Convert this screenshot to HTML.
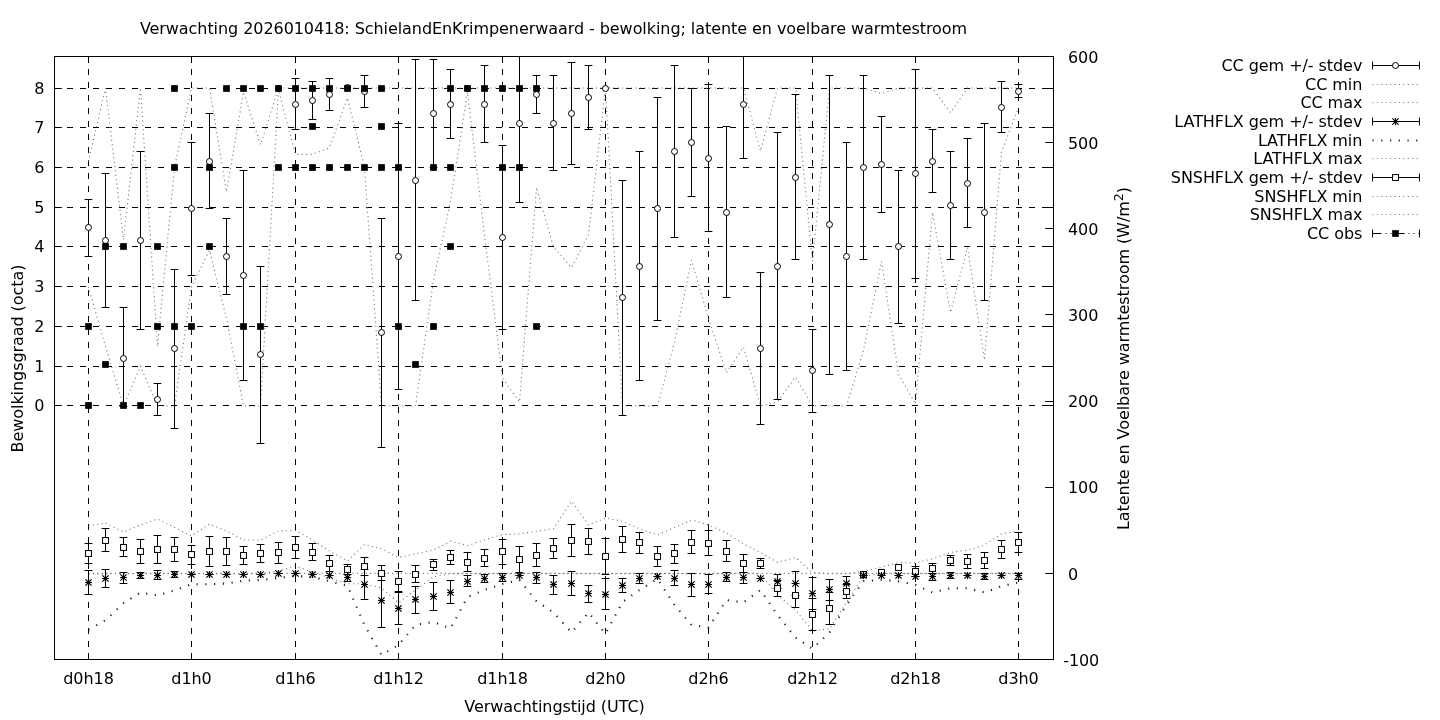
<!DOCTYPE html>
<html lang="nl"><head><meta charset="utf-8"><title>Verwachting 2026010418</title>
<style>html,body{margin:0;padding:0;background:#fff}body{width:1440px;height:720px;overflow:hidden}svg{display:block}</style>
</head><body>
<svg width="1440" height="720" viewBox="0 0 1440 720" font-family="DejaVu Sans, Liberation Sans, sans-serif" font-size="16" fill="#000" letter-spacing="-0.066">
<rect width="1440" height="720" fill="#fff"/>
<g stroke="#000" stroke-width="1" stroke-dasharray="5 8" stroke-linecap="square" fill="none">
<path d="M54.5 405.50H1053.5"/>
<path d="M54.5 366.50H1053.5"/>
<path d="M54.5 326.50H1053.5"/>
<path d="M54.5 286.50H1053.5"/>
<path d="M54.5 246.50H1053.5"/>
<path d="M54.5 207.50H1053.5"/>
<path d="M54.5 167.50H1053.5"/>
<path d="M54.5 127.50H1053.5"/>
<path d="M54.5 88.50H1053.5"/>
<path d="M88.50 56.5V659.5"/>
<path d="M191.50 56.5V659.5"/>
<path d="M295.50 56.5V659.5"/>
<path d="M398.50 56.5V659.5"/>
<path d="M502.50 56.5V659.5"/>
<path d="M605.50 56.5V659.5"/>
<path d="M708.50 56.5V659.5"/>
<path d="M812.50 56.5V659.5"/>
<path d="M915.50 56.5V659.5"/>
<path d="M1018.50 56.5V659.5"/>
</g>
<g stroke="#000" stroke-width="1" fill="none">
<path d="M1053.5 659.50h-8.3"/>
<path d="M1053.5 573.50h-8.3"/>
<path d="M1053.5 487.50h-8.3"/>
<path d="M1053.5 401.50h-8.3"/>
<path d="M1053.5 314.50h-8.3"/>
<path d="M1053.5 228.50h-8.3"/>
<path d="M1053.5 142.50h-8.3"/>
<path d="M1053.5 56.50h-8.3"/>
<path d="M54.5 405.50h7.4M1053.5 405.50h-7.4"/>
<path d="M54.5 366.50h7.4M1053.5 366.50h-7.4"/>
<path d="M54.5 326.50h7.4M1053.5 326.50h-7.4"/>
<path d="M54.5 286.50h7.4M1053.5 286.50h-7.4"/>
<path d="M54.5 246.50h7.4M1053.5 246.50h-7.4"/>
<path d="M54.5 207.50h7.4M1053.5 207.50h-7.4"/>
<path d="M54.5 167.50h7.4M1053.5 167.50h-7.4"/>
<path d="M54.5 127.50h7.4M1053.5 127.50h-7.4"/>
<path d="M54.5 88.50h7.4M1053.5 88.50h-7.4"/>
<path d="M88.5 56.5v6.5M88.5 659.5v-6.5"/>
<path d="M191.5 56.5v6.5M191.5 659.5v-6.5"/>
<path d="M295.5 56.5v6.5M295.5 659.5v-6.5"/>
<path d="M398.5 56.5v6.5M398.5 659.5v-6.5"/>
<path d="M502.5 56.5v6.5M502.5 659.5v-6.5"/>
<path d="M605.5 56.5v6.5M605.5 659.5v-6.5"/>
<path d="M708.5 56.5v6.5M708.5 659.5v-6.5"/>
<path d="M812.5 56.5v6.5M812.5 659.5v-6.5"/>
<path d="M915.5 56.5v6.5M915.5 659.5v-6.5"/>
<path d="M1018.5 56.5v6.5M1018.5 659.5v-6.5"/>
</g>
<g fill="none" stroke="#787878" stroke-width="1.1" stroke-dasharray="1.1 3.3">
<polyline points="88.5,286.8 105.5,346.4 123.5,406.0 140.5,366.2 157.5,406.0 174.5,406.0 191.5,286.8 209.5,250.2 226.5,318.6 243.5,406.0 260.5,406.0 278.5,90.0 295.5,154.4 312.5,154.4 329.5,147.6 347.5,97.9 364.5,167.5 381.5,406.0 398.5,406.0 415.5,406.0 433.5,280.0 450.5,201.3 467.5,92.0 484.5,235.1 502.5,378.2 519.5,402.0 536.5,187.4 553.5,247.0 571.5,267.7 588.5,234.7 605.5,88.0 622.5,406.0 639.5,406.0 657.5,406.0 674.5,342.4 691.5,260.1 708.5,318.6 726.5,372.6 743.5,347.2 760.5,406.0 777.5,402.0 795.5,377.0 812.5,406.0 829.5,406.0 846.5,406.0 863.5,350.4 881.5,261.3 898.5,374.2 915.5,404.0 932.5,212.4 950.5,312.6 967.5,247.4 984.5,359.9 1001.5,151.6 1018.5,107.9"/>
<polyline points="88.5,161.5 105.5,88.0 123.5,239.8 140.5,88.0 157.5,346.4 174.5,167.5 191.5,88.0 209.5,88.0 226.5,191.7 243.5,92.0 260.5,144.8 278.5,88.0 295.5,88.0 312.5,88.0 329.5,88.0 347.5,88.0 364.5,88.0 381.5,88.0 398.5,88.0 415.5,88.0 433.5,88.0 450.5,88.0 467.5,88.0 484.5,88.0 502.5,88.0 519.5,88.0 536.5,88.0 553.5,88.0 571.5,88.0 588.5,88.0 605.5,88.0 622.5,88.0 639.5,88.0 657.5,88.0 674.5,88.0 691.5,88.0 708.5,88.0 726.5,88.0 743.5,88.0 760.5,151.2 777.5,88.0 795.5,88.0 812.5,261.3 829.5,88.0 846.5,88.0 863.5,88.0 881.5,93.6 898.5,88.0 915.5,88.0 932.5,88.0 950.5,112.6 967.5,88.0 984.5,88.0 1001.5,88.0 1018.5,88.0"/>
<polyline points="88.5,573.4 105.5,573.4 123.5,573.4 140.5,573.4 157.5,573.4 174.5,573.4 191.5,573.4 209.5,573.4 226.5,573.4 243.5,573.4 260.5,573.4 278.5,573.4 295.5,573.4 312.5,573.4 329.5,573.4 347.5,573.4 364.5,573.4 381.5,573.4 398.5,573.4 415.5,573.4 433.5,573.4 450.5,573.4 467.5,573.4 484.5,573.4 502.5,573.4 519.5,573.4 536.5,573.4 553.5,573.4 571.5,573.4 588.5,573.4 605.5,573.4 622.5,573.4 639.5,573.4 657.5,573.4 674.5,573.4 691.5,573.4 708.5,573.4 726.5,573.4 743.5,573.4 760.5,573.4 777.5,573.4 795.5,573.4 812.5,573.4 829.5,573.4 846.5,573.4 863.5,573.4 881.5,573.4 898.5,573.4 915.5,573.4 932.5,573.4 950.5,573.4 967.5,573.4 984.5,573.4 1001.5,573.4 1018.5,573.4"/>
<polyline points="88.5,573.6 105.5,573.6 123.5,573.6 140.5,573.6 157.5,573.6 174.5,573.6 191.5,573.6 209.5,573.6 226.5,573.6 243.5,573.6 260.5,573.6 278.5,571.0 295.5,566.0 312.5,572.0 329.5,578.0 347.5,583.8 364.5,583.8 381.5,588.0 398.5,602.8 415.5,590.0 433.5,577.0 450.5,573.6 467.5,573.6 484.5,573.6 502.5,573.6 519.5,573.6 536.5,573.6 553.5,573.6 571.5,573.6 588.5,573.6 605.5,573.6 622.5,573.6 639.5,573.6 657.5,573.6 674.5,573.6 691.5,573.6 708.5,573.6 726.5,573.6 743.5,573.6 760.5,574.0 777.5,595.0 795.5,610.0 812.5,631.0 829.5,628.8 846.5,602.5 863.5,576.0 881.5,573.6 898.5,573.6 915.5,573.6 932.5,573.6 950.5,573.6 967.5,573.6 984.5,573.6 1001.5,573.6 1018.5,573.6"/>
<polyline points="88.5,526.0 105.5,523.0 123.5,532.0 140.5,525.0 157.5,519.0 174.5,527.5 191.5,536.0 209.5,524.0 226.5,531.0 243.5,540.0 260.5,540.0 278.5,531.0 295.5,530.5 312.5,540.0 329.5,551.0 347.5,561.0 364.5,544.5 381.5,548.8 398.5,557.5 415.5,553.8 433.5,550.0 450.5,541.2 467.5,545.5 484.5,540.0 502.5,534.5 519.5,533.8 536.5,531.2 553.5,528.8 571.5,501.2 588.5,525.0 605.5,518.0 622.5,521.2 639.5,528.8 657.5,535.0 674.5,527.5 691.5,520.0 708.5,525.0 726.5,533.0 743.5,543.8 760.5,552.5 777.5,562.5 795.5,557.5 812.5,572.5 829.5,573.8 846.5,573.8 863.5,571.2 881.5,567.5 898.5,562.5 915.5,563.0 932.5,558.8 950.5,552.5 967.5,550.0 984.5,545.0 1001.5,533.8 1018.5,531.2"/>
</g>
<polyline fill="none" stroke="#1a1a1a" stroke-width="2.1" stroke-dasharray="1.15 7.6" points="88.5,629.6 105.5,620.3 123.5,603.2 140.5,592.5 157.5,595.5 174.5,590.5 191.5,584.2 209.5,584.2 226.5,583.5 243.5,580.8 260.5,580.0 278.5,578.0 295.5,576.0 312.5,577.0 329.5,581.0 347.5,586.0 364.5,625.0 381.5,655.0 398.5,645.0 415.5,625.0 433.5,622.0 450.5,628.5 467.5,597.0 484.5,590.0 502.5,584.0 519.5,580.0 536.5,601.2 553.5,612.5 571.5,632.5 588.5,612.5 605.5,633.8 622.5,602.0 639.5,590.0 657.5,578.8 674.5,605.0 691.5,625.0 708.5,627.5 726.5,600.0 743.5,602.5 760.5,590.0 777.5,615.0 795.5,637.5 812.5,648.8 829.5,632.5 846.5,605.0 863.5,581.2 881.5,580.0 898.5,581.2 915.5,585.0 932.5,592.5 950.5,588.2 967.5,588.2 984.5,592.5 1001.5,586.2 1018.5,582.5"/>
<g stroke="#000" stroke-width="1" fill="none">
<path d="M88.50 199.50V256.50M84.60 199.50h7.8M84.60 256.50h7.8M105.50 173.50V307.50M101.60 173.50h7.8M101.60 307.50h7.8M123.50 307.50V406.50M119.60 307.50h7.8M119.60 406.50h7.8M140.50 151.50V329.50M136.60 151.50h7.8M136.60 329.50h7.8M157.50 383.50V415.50M153.60 383.50h7.8M153.60 415.50h7.8M174.50 269.50V428.50M170.60 269.50h7.8M170.60 428.50h7.8M191.50 142.50V275.50M187.60 142.50h7.8M187.60 275.50h7.8M209.50 113.50V208.50M205.60 113.50h7.8M205.60 208.50h7.8M226.50 218.50V294.50M222.60 218.50h7.8M222.60 294.50h7.8M243.50 170.50V380.50M239.60 170.50h7.8M239.60 380.50h7.8M260.50 266.50V443.50M256.60 266.50h7.8M256.60 443.50h7.8M295.50 78.50V129.50M291.60 78.50h7.8M291.60 129.50h7.8M312.50 81.50V119.50M308.60 81.50h7.8M308.60 119.50h7.8M329.50 78.50V110.50M325.60 78.50h7.8M325.60 110.50h7.8M364.50 75.50V107.50M360.60 75.50h7.8M360.60 107.50h7.8M381.50 218.50V447.50M377.60 218.50h7.8M377.60 447.50h7.8M398.50 123.50V389.50M394.60 123.50h7.8M394.60 389.50h7.8M415.50 59.50V300.50M411.60 59.50h7.8M411.60 300.50h7.8M433.50 59.50V167.50M429.60 59.50h7.8M429.60 167.50h7.8M450.50 69.50V138.50M446.60 69.50h7.8M446.60 138.50h7.8M484.50 65.50V142.50M480.60 65.50h7.8M480.60 142.50h7.8M502.50 145.50V329.50M498.60 145.50h7.8M498.60 329.50h7.8M519.50 56.50V202.50M515.60 202.50h7.8M536.50 75.50V113.50M532.60 75.50h7.8M532.60 113.50h7.8M553.50 75.50V170.50M549.60 75.50h7.8M549.60 170.50h7.8M571.50 62.50V164.50M567.60 62.50h7.8M567.60 164.50h7.8M588.50 65.50V129.50M584.60 65.50h7.8M584.60 129.50h7.8M622.50 180.50V415.50M618.60 180.50h7.8M618.60 415.50h7.8M639.50 151.50V380.50M635.60 151.50h7.8M635.60 380.50h7.8M657.50 97.50V320.50M653.60 97.50h7.8M653.60 320.50h7.8M674.50 65.50V237.50M670.60 65.50h7.8M670.60 237.50h7.8M691.50 88.50V196.50M687.60 88.50h7.8M687.60 196.50h7.8M708.50 84.50V231.50M704.60 84.50h7.8M704.60 231.50h7.8M726.50 126.50V297.50M722.60 126.50h7.8M722.60 297.50h7.8M743.50 56.50V158.50M739.60 158.50h7.8M760.50 272.50V424.50M756.60 272.50h7.8M756.60 424.50h7.8M777.50 132.50V399.50M773.60 132.50h7.8M773.60 399.50h7.8M795.50 94.50V259.50M791.60 94.50h7.8M791.60 259.50h7.8M812.50 329.50V412.50M808.60 329.50h7.8M808.60 412.50h7.8M829.50 75.50V374.50M825.60 75.50h7.8M825.60 374.50h7.8M846.50 142.50V370.50M842.60 142.50h7.8M842.60 370.50h7.8M863.50 75.50V259.50M859.60 75.50h7.8M859.60 259.50h7.8M881.50 116.50V212.50M877.60 116.50h7.8M877.60 212.50h7.8M898.50 170.50V323.50M894.60 170.50h7.8M894.60 323.50h7.8M915.50 69.50V278.50M911.60 69.50h7.8M911.60 278.50h7.8M932.50 129.50V192.50M928.60 129.50h7.8M928.60 192.50h7.8M950.50 151.50V259.50M946.60 151.50h7.8M946.60 259.50h7.8M967.50 138.50V227.50M963.60 138.50h7.8M963.60 227.50h7.8M984.50 123.50V300.50M980.60 123.50h7.8M980.60 300.50h7.8M1001.50 81.50V132.50M997.60 81.50h7.8M997.60 132.50h7.8M1018.50 84.50V97.50M1014.60 84.50h7.8M1014.60 97.50h7.8"/>
<path d="M88.50 570.50V594.50M84.60 570.50h7.8M84.60 594.50h7.8M105.50 569.50V587.50M101.60 569.50h7.8M101.60 587.50h7.8M123.50 572.50V583.50M119.60 572.50h7.8M119.60 583.50h7.8M140.50 572.50V578.50M136.60 572.50h7.8M136.60 578.50h7.8M157.50 570.50V579.50M153.60 570.50h7.8M153.60 579.50h7.8M174.50 571.50V577.50M170.60 571.50h7.8M170.60 577.50h7.8M191.50 574.50V574.50M187.60 574.50h7.8M187.60 574.50h7.8M209.50 574.50V574.50M205.60 574.50h7.8M205.60 574.50h7.8M226.50 574.50V574.50M222.60 574.50h7.8M222.60 574.50h7.8M243.50 574.50V574.50M239.60 574.50h7.8M239.60 574.50h7.8M260.50 574.50V574.50M256.60 574.50h7.8M256.60 574.50h7.8M278.50 573.50V573.50M274.60 573.50h7.8M274.60 573.50h7.8M295.50 573.50V573.50M291.60 573.50h7.8M291.60 573.50h7.8M312.50 574.50V574.50M308.60 574.50h7.8M308.60 574.50h7.8M329.50 575.50V575.50M325.60 575.50h7.8M325.60 575.50h7.8M347.50 574.50V581.50M343.60 574.50h7.8M343.60 581.50h7.8M364.50 569.50V599.50M360.60 569.50h7.8M360.60 599.50h7.8M381.50 573.50V627.50M377.60 573.50h7.8M377.60 627.50h7.8M398.50 591.50V624.50M394.60 591.50h7.8M394.60 624.50h7.8M415.50 586.50V613.50M411.60 586.50h7.8M411.60 613.50h7.8M433.50 582.50V610.50M429.60 582.50h7.8M429.60 610.50h7.8M450.50 580.50V603.50M446.60 580.50h7.8M446.60 603.50h7.8M467.50 575.50V586.50M463.60 575.50h7.8M463.60 586.50h7.8M484.50 574.50V582.50M480.60 574.50h7.8M480.60 582.50h7.8M502.50 573.50V581.50M498.60 573.50h7.8M498.60 581.50h7.8M519.50 575.50V575.50M515.60 575.50h7.8M515.60 575.50h7.8M536.50 572.50V583.50M532.60 572.50h7.8M532.60 583.50h7.8M553.50 575.50V594.50M549.60 575.50h7.8M549.60 594.50h7.8M571.50 571.50V595.50M567.60 571.50h7.8M567.60 595.50h7.8M588.50 585.50V602.50M584.60 585.50h7.8M584.60 602.50h7.8M605.50 578.50V609.50M601.60 578.50h7.8M601.60 609.50h7.8M622.50 578.50V592.50M618.60 578.50h7.8M618.60 592.50h7.8M639.50 573.50V583.50M635.60 573.50h7.8M635.60 583.50h7.8M657.50 576.50V576.50M653.60 576.50h7.8M653.60 576.50h7.8M674.50 570.50V585.50M670.60 570.50h7.8M670.60 585.50h7.8M691.50 573.50V596.50M687.60 573.50h7.8M687.60 596.50h7.8M708.50 574.50V593.50M704.60 574.50h7.8M704.60 593.50h7.8M726.50 572.50V581.50M722.60 572.50h7.8M722.60 581.50h7.8M743.50 572.50V583.50M739.60 572.50h7.8M739.60 583.50h7.8M760.50 578.50V578.50M756.60 578.50h7.8M756.60 578.50h7.8M777.50 574.50V588.50M773.60 574.50h7.8M773.60 588.50h7.8M795.50 571.50V595.50M791.60 571.50h7.8M791.60 595.50h7.8M812.50 577.50V609.50M808.60 577.50h7.8M808.60 609.50h7.8M829.50 579.50V600.50M825.60 579.50h7.8M825.60 600.50h7.8M846.50 576.50V590.50M842.60 576.50h7.8M842.60 590.50h7.8M863.50 575.50V575.50M859.60 575.50h7.8M859.60 575.50h7.8M881.50 575.50V575.50M877.60 575.50h7.8M877.60 575.50h7.8M898.50 575.50V575.50M894.60 575.50h7.8M894.60 575.50h7.8M915.50 576.50V576.50M911.60 576.50h7.8M911.60 576.50h7.8M932.50 573.50V580.50M928.60 573.50h7.8M928.60 580.50h7.8M950.50 572.50V578.50M946.60 572.50h7.8M946.60 578.50h7.8M967.50 575.50V575.50M963.60 575.50h7.8M963.60 575.50h7.8M984.50 573.50V579.50M980.60 573.50h7.8M980.60 579.50h7.8M1001.50 575.50V575.50M997.60 575.50h7.8M997.60 575.50h7.8M1018.50 573.50V579.50M1014.60 573.50h7.8M1014.60 579.50h7.8M88.50 543.50V563.50M84.60 543.50h7.8M84.60 563.50h7.8M105.50 528.50V551.50M101.60 528.50h7.8M101.60 551.50h7.8M123.50 537.50V556.50M119.60 537.50h7.8M119.60 556.50h7.8M140.50 539.50V563.50M136.60 539.50h7.8M136.60 563.50h7.8M157.50 535.50V563.50M153.60 535.50h7.8M153.60 563.50h7.8M174.50 537.50V561.50M170.60 537.50h7.8M170.60 561.50h7.8M191.50 545.50V564.50M187.60 545.50h7.8M187.60 564.50h7.8M209.50 536.50V566.50M205.60 536.50h7.8M205.60 566.50h7.8M226.50 537.50V565.50M222.60 537.50h7.8M222.60 565.50h7.8M243.50 546.50V564.50M239.60 546.50h7.8M239.60 564.50h7.8M260.50 544.50V562.50M256.60 544.50h7.8M256.60 562.50h7.8M278.50 542.50V563.50M274.60 542.50h7.8M274.60 563.50h7.8M295.50 536.50V558.50M291.60 536.50h7.8M291.60 558.50h7.8M312.50 543.50V560.50M308.60 543.50h7.8M308.60 560.50h7.8M329.50 555.50V571.50M325.60 555.50h7.8M325.60 571.50h7.8M347.50 564.50V574.50M343.60 564.50h7.8M343.60 574.50h7.8M364.50 557.50V575.50M360.60 557.50h7.8M360.60 575.50h7.8M381.50 565.50V580.50M377.60 565.50h7.8M377.60 580.50h7.8M398.50 571.50V592.50M394.60 571.50h7.8M394.60 592.50h7.8M415.50 565.50V582.50M411.60 565.50h7.8M411.60 582.50h7.8M433.50 559.50V570.50M429.60 559.50h7.8M429.60 570.50h7.8M450.50 550.50V564.50M446.60 550.50h7.8M446.60 564.50h7.8M467.50 552.50V571.50M463.60 552.50h7.8M463.60 571.50h7.8M484.50 549.50V566.50M480.60 549.50h7.8M480.60 566.50h7.8M502.50 539.50V564.50M498.60 539.50h7.8M498.60 564.50h7.8M519.50 546.50V572.50M515.60 546.50h7.8M515.60 572.50h7.8M536.50 543.50V566.50M532.60 543.50h7.8M532.60 566.50h7.8M553.50 538.50V558.50M549.60 538.50h7.8M549.60 558.50h7.8M571.50 524.50V556.50M567.60 524.50h7.8M567.60 556.50h7.8M588.50 528.50V554.50M584.60 528.50h7.8M584.60 554.50h7.8M605.50 538.50V574.50M601.60 538.50h7.8M601.60 574.50h7.8M622.50 526.50V552.50M618.60 526.50h7.8M618.60 552.50h7.8M639.50 532.50V553.50M635.60 532.50h7.8M635.60 553.50h7.8M657.50 546.50V566.50M653.60 546.50h7.8M653.60 566.50h7.8M674.50 544.50V563.50M670.60 544.50h7.8M670.60 563.50h7.8M691.50 530.50V553.50M687.60 530.50h7.8M687.60 553.50h7.8M708.50 530.50V555.50M704.60 530.50h7.8M704.60 555.50h7.8M726.50 540.50V561.50M722.60 540.50h7.8M722.60 561.50h7.8M743.50 554.50V572.50M739.60 554.50h7.8M739.60 572.50h7.8M760.50 558.50V568.50M756.60 558.50h7.8M756.60 568.50h7.8M777.50 580.50V596.50M773.60 580.50h7.8M773.60 596.50h7.8M795.50 583.50V607.50M791.60 583.50h7.8M791.60 607.50h7.8M812.50 598.50V630.50M808.60 598.50h7.8M808.60 630.50h7.8M829.50 592.50V624.50M825.60 592.50h7.8M825.60 624.50h7.8M846.50 584.50V598.50M842.60 584.50h7.8M842.60 598.50h7.8M915.50 566.50V576.50M911.60 566.50h7.8M911.60 576.50h7.8M932.50 563.50V573.50M928.60 563.50h7.8M928.60 573.50h7.8M950.50 555.50V565.50M946.60 555.50h7.8M946.60 565.50h7.8M967.50 554.50V568.50M963.60 554.50h7.8M963.60 568.50h7.8M984.50 552.50V568.50M980.60 552.50h7.8M980.60 568.50h7.8M1001.50 540.50V558.50M997.60 540.50h7.8M997.60 558.50h7.8M1018.50 532.50V552.50M1014.60 532.50h7.8M1014.60 552.50h7.8"/>
</g>
<g stroke="#000" stroke-width="1" fill="#fff">
<circle cx="88.50" cy="227.50" r="3"/>
<circle cx="105.50" cy="240.50" r="3"/>
<circle cx="123.50" cy="358.50" r="3"/>
<circle cx="140.50" cy="240.50" r="3"/>
<circle cx="157.50" cy="399.50" r="3"/>
<circle cx="174.50" cy="348.50" r="3"/>
<circle cx="191.50" cy="208.50" r="3"/>
<circle cx="209.50" cy="161.50" r="3"/>
<circle cx="226.50" cy="256.50" r="3"/>
<circle cx="243.50" cy="275.50" r="3"/>
<circle cx="260.50" cy="354.50" r="3"/>
<circle cx="278.50" cy="88.50" r="3"/>
<circle cx="295.50" cy="104.50" r="3"/>
<circle cx="312.50" cy="100.50" r="3"/>
<circle cx="329.50" cy="94.50" r="3"/>
<circle cx="347.50" cy="87.50" r="3"/>
<circle cx="364.50" cy="91.50" r="3"/>
<circle cx="381.50" cy="332.50" r="3"/>
<circle cx="398.50" cy="256.50" r="3"/>
<circle cx="415.50" cy="180.50" r="3"/>
<circle cx="433.50" cy="113.50" r="3"/>
<circle cx="450.50" cy="104.50" r="3"/>
<circle cx="467.50" cy="88.50" r="3"/>
<circle cx="484.50" cy="104.50" r="3"/>
<circle cx="502.50" cy="237.50" r="3"/>
<circle cx="519.50" cy="123.50" r="3"/>
<circle cx="536.50" cy="94.50" r="3"/>
<circle cx="553.50" cy="123.50" r="3"/>
<circle cx="571.50" cy="113.50" r="3"/>
<circle cx="588.50" cy="97.50" r="3"/>
<circle cx="605.50" cy="88.50" r="3"/>
<circle cx="622.50" cy="297.50" r="3"/>
<circle cx="639.50" cy="266.50" r="3"/>
<circle cx="657.50" cy="208.50" r="3"/>
<circle cx="674.50" cy="151.50" r="3"/>
<circle cx="691.50" cy="142.50" r="3"/>
<circle cx="708.50" cy="158.50" r="3"/>
<circle cx="726.50" cy="212.50" r="3"/>
<circle cx="743.50" cy="104.50" r="3"/>
<circle cx="760.50" cy="348.50" r="3"/>
<circle cx="777.50" cy="266.50" r="3"/>
<circle cx="795.50" cy="177.50" r="3"/>
<circle cx="812.50" cy="370.50" r="3"/>
<circle cx="829.50" cy="224.50" r="3"/>
<circle cx="846.50" cy="256.50" r="3"/>
<circle cx="863.50" cy="167.50" r="3"/>
<circle cx="881.50" cy="164.50" r="3"/>
<circle cx="898.50" cy="246.50" r="3"/>
<circle cx="915.50" cy="173.50" r="3"/>
<circle cx="932.50" cy="161.50" r="3"/>
<circle cx="950.50" cy="205.50" r="3"/>
<circle cx="967.50" cy="183.50" r="3"/>
<circle cx="984.50" cy="212.50" r="3"/>
<circle cx="1001.50" cy="107.50" r="3"/>
<circle cx="1018.50" cy="91.50" r="3"/>
<rect x="85.55" y="550.55" width="5.9" height="5.9"/>
<rect x="102.55" y="537.55" width="5.9" height="5.9"/>
<rect x="120.55" y="544.55" width="5.9" height="5.9"/>
<rect x="137.55" y="548.55" width="5.9" height="5.9"/>
<rect x="154.55" y="546.55" width="5.9" height="5.9"/>
<rect x="171.55" y="546.55" width="5.9" height="5.9"/>
<rect x="188.55" y="551.55" width="5.9" height="5.9"/>
<rect x="206.55" y="548.55" width="5.9" height="5.9"/>
<rect x="223.55" y="548.55" width="5.9" height="5.9"/>
<rect x="240.55" y="552.55" width="5.9" height="5.9"/>
<rect x="257.55" y="550.55" width="5.9" height="5.9"/>
<rect x="275.55" y="549.55" width="5.9" height="5.9"/>
<rect x="292.55" y="544.55" width="5.9" height="5.9"/>
<rect x="309.55" y="549.55" width="5.9" height="5.9"/>
<rect x="326.55" y="560.55" width="5.9" height="5.9"/>
<rect x="344.55" y="566.55" width="5.9" height="5.9"/>
<rect x="361.55" y="563.55" width="5.9" height="5.9"/>
<rect x="378.55" y="570.55" width="5.9" height="5.9"/>
<rect x="395.55" y="578.55" width="5.9" height="5.9"/>
<rect x="412.55" y="571.55" width="5.9" height="5.9"/>
<rect x="430.55" y="561.55" width="5.9" height="5.9"/>
<rect x="447.55" y="554.55" width="5.9" height="5.9"/>
<rect x="464.55" y="559.55" width="5.9" height="5.9"/>
<rect x="481.55" y="555.55" width="5.9" height="5.9"/>
<rect x="499.55" y="548.55" width="5.9" height="5.9"/>
<rect x="516.55" y="556.55" width="5.9" height="5.9"/>
<rect x="533.55" y="552.55" width="5.9" height="5.9"/>
<rect x="550.55" y="545.55" width="5.9" height="5.9"/>
<rect x="568.55" y="537.55" width="5.9" height="5.9"/>
<rect x="585.55" y="538.55" width="5.9" height="5.9"/>
<rect x="602.55" y="553.55" width="5.9" height="5.9"/>
<rect x="619.55" y="536.55" width="5.9" height="5.9"/>
<rect x="636.55" y="539.55" width="5.9" height="5.9"/>
<rect x="654.55" y="553.55" width="5.9" height="5.9"/>
<rect x="671.55" y="550.55" width="5.9" height="5.9"/>
<rect x="688.55" y="539.55" width="5.9" height="5.9"/>
<rect x="705.55" y="540.55" width="5.9" height="5.9"/>
<rect x="723.55" y="548.55" width="5.9" height="5.9"/>
<rect x="740.55" y="560.55" width="5.9" height="5.9"/>
<rect x="757.55" y="560.55" width="5.9" height="5.9"/>
<rect x="774.55" y="585.55" width="5.9" height="5.9"/>
<rect x="792.55" y="592.55" width="5.9" height="5.9"/>
<rect x="809.55" y="611.55" width="5.9" height="5.9"/>
<rect x="826.55" y="605.55" width="5.9" height="5.9"/>
<rect x="843.55" y="588.55" width="5.9" height="5.9"/>
<rect x="860.55" y="571.55" width="5.9" height="5.9"/>
<rect x="878.55" y="569.55" width="5.9" height="5.9"/>
<rect x="895.55" y="564.55" width="5.9" height="5.9"/>
<rect x="912.55" y="568.55" width="5.9" height="5.9"/>
<rect x="929.55" y="565.55" width="5.9" height="5.9"/>
<rect x="947.55" y="557.55" width="5.9" height="5.9"/>
<rect x="964.55" y="558.55" width="5.9" height="5.9"/>
<rect x="981.55" y="557.55" width="5.9" height="5.9"/>
<rect x="998.55" y="546.55" width="5.9" height="5.9"/>
<rect x="1015.55" y="539.55" width="5.9" height="5.9"/>
</g>
<path d="M85.10 582.50h6.8M88.50 579.10v6.8M85.40 579.40l6.20 6.20M85.40 585.60l6.20 -6.20M102.10 578.50h6.8M105.50 575.10v6.8M102.40 575.40l6.20 6.20M102.40 581.60l6.20 -6.20M120.10 577.50h6.8M123.50 574.10v6.8M120.40 574.40l6.20 6.20M120.40 580.60l6.20 -6.20M137.10 575.50h6.8M140.50 572.10v6.8M137.40 572.40l6.20 6.20M137.40 578.60l6.20 -6.20M154.10 575.50h6.8M157.50 572.10v6.8M154.40 572.40l6.20 6.20M154.40 578.60l6.20 -6.20M171.10 574.50h6.8M174.50 571.10v6.8M171.40 571.40l6.20 6.20M171.40 577.60l6.20 -6.20M188.10 574.50h6.8M191.50 571.10v6.8M188.40 571.40l6.20 6.20M188.40 577.60l6.20 -6.20M206.10 574.50h6.8M209.50 571.10v6.8M206.40 571.40l6.20 6.20M206.40 577.60l6.20 -6.20M223.10 574.50h6.8M226.50 571.10v6.8M223.40 571.40l6.20 6.20M223.40 577.60l6.20 -6.20M240.10 574.50h6.8M243.50 571.10v6.8M240.40 571.40l6.20 6.20M240.40 577.60l6.20 -6.20M257.10 574.50h6.8M260.50 571.10v6.8M257.40 571.40l6.20 6.20M257.40 577.60l6.20 -6.20M275.10 573.50h6.8M278.50 570.10v6.8M275.40 570.40l6.20 6.20M275.40 576.60l6.20 -6.20M292.10 573.50h6.8M295.50 570.10v6.8M292.40 570.40l6.20 6.20M292.40 576.60l6.20 -6.20M309.10 574.50h6.8M312.50 571.10v6.8M309.40 571.40l6.20 6.20M309.40 577.60l6.20 -6.20M326.10 575.50h6.8M329.50 572.10v6.8M326.40 572.40l6.20 6.20M326.40 578.60l6.20 -6.20M344.10 577.50h6.8M347.50 574.10v6.8M344.40 574.40l6.20 6.20M344.40 580.60l6.20 -6.20M361.10 584.50h6.8M364.50 581.10v6.8M361.40 581.40l6.20 6.20M361.40 587.60l6.20 -6.20M378.10 600.50h6.8M381.50 597.10v6.8M378.40 597.40l6.20 6.20M378.40 603.60l6.20 -6.20M395.10 608.50h6.8M398.50 605.10v6.8M395.40 605.40l6.20 6.20M395.40 611.60l6.20 -6.20M412.10 599.50h6.8M415.50 596.10v6.8M412.40 596.40l6.20 6.20M412.40 602.60l6.20 -6.20M430.10 596.50h6.8M433.50 593.10v6.8M430.40 593.40l6.20 6.20M430.40 599.60l6.20 -6.20M447.10 592.50h6.8M450.50 589.10v6.8M447.40 589.40l6.20 6.20M447.40 595.60l6.20 -6.20M464.10 581.50h6.8M467.50 578.10v6.8M464.40 578.40l6.20 6.20M464.40 584.60l6.20 -6.20M481.10 578.50h6.8M484.50 575.10v6.8M481.40 575.40l6.20 6.20M481.40 581.60l6.20 -6.20M499.10 577.50h6.8M502.50 574.10v6.8M499.40 574.40l6.20 6.20M499.40 580.60l6.20 -6.20M516.10 575.50h6.8M519.50 572.10v6.8M516.40 572.40l6.20 6.20M516.40 578.60l6.20 -6.20M533.10 577.50h6.8M536.50 574.10v6.8M533.40 574.40l6.20 6.20M533.40 580.60l6.20 -6.20M550.10 584.50h6.8M553.50 581.10v6.8M550.40 581.40l6.20 6.20M550.40 587.60l6.20 -6.20M568.10 583.50h6.8M571.50 580.10v6.8M568.40 580.40l6.20 6.20M568.40 586.60l6.20 -6.20M585.10 593.50h6.8M588.50 590.10v6.8M585.40 590.40l6.20 6.20M585.40 596.60l6.20 -6.20M602.10 594.50h6.8M605.50 591.10v6.8M602.40 591.40l6.20 6.20M602.40 597.60l6.20 -6.20M619.10 585.50h6.8M622.50 582.10v6.8M619.40 582.40l6.20 6.20M619.40 588.60l6.20 -6.20M636.10 578.50h6.8M639.50 575.10v6.8M636.40 575.40l6.20 6.20M636.40 581.60l6.20 -6.20M654.10 576.50h6.8M657.50 573.10v6.8M654.40 573.40l6.20 6.20M654.40 579.60l6.20 -6.20M671.10 578.50h6.8M674.50 575.10v6.8M671.40 575.40l6.20 6.20M671.40 581.60l6.20 -6.20M688.10 584.50h6.8M691.50 581.10v6.8M688.40 581.40l6.20 6.20M688.40 587.60l6.20 -6.20M705.10 584.50h6.8M708.50 581.10v6.8M705.40 581.40l6.20 6.20M705.40 587.60l6.20 -6.20M723.10 577.50h6.8M726.50 574.10v6.8M723.40 574.40l6.20 6.20M723.40 580.60l6.20 -6.20M740.10 577.50h6.8M743.50 574.10v6.8M740.40 574.40l6.20 6.20M740.40 580.60l6.20 -6.20M757.10 578.50h6.8M760.50 575.10v6.8M757.40 575.40l6.20 6.20M757.40 581.60l6.20 -6.20M774.10 581.50h6.8M777.50 578.10v6.8M774.40 578.40l6.20 6.20M774.40 584.60l6.20 -6.20M792.10 583.50h6.8M795.50 580.10v6.8M792.40 580.40l6.20 6.20M792.40 586.60l6.20 -6.20M809.10 593.50h6.8M812.50 590.10v6.8M809.40 590.40l6.20 6.20M809.40 596.60l6.20 -6.20M826.10 589.50h6.8M829.50 586.10v6.8M826.40 586.40l6.20 6.20M826.40 592.60l6.20 -6.20M843.10 583.50h6.8M846.50 580.10v6.8M843.40 580.40l6.20 6.20M843.40 586.60l6.20 -6.20M860.10 575.50h6.8M863.50 572.10v6.8M860.40 572.40l6.20 6.20M860.40 578.60l6.20 -6.20M878.10 575.50h6.8M881.50 572.10v6.8M878.40 572.40l6.20 6.20M878.40 578.60l6.20 -6.20M895.10 575.50h6.8M898.50 572.10v6.8M895.40 572.40l6.20 6.20M895.40 578.60l6.20 -6.20M912.10 576.50h6.8M915.50 573.10v6.8M912.40 573.40l6.20 6.20M912.40 579.60l6.20 -6.20M929.10 576.50h6.8M932.50 573.10v6.8M929.40 573.40l6.20 6.20M929.40 579.60l6.20 -6.20M947.10 575.50h6.8M950.50 572.10v6.8M947.40 572.40l6.20 6.20M947.40 578.60l6.20 -6.20M964.10 575.50h6.8M967.50 572.10v6.8M964.40 572.40l6.20 6.20M964.40 578.60l6.20 -6.20M981.10 576.50h6.8M984.50 573.10v6.8M981.40 573.40l6.20 6.20M981.40 579.60l6.20 -6.20M998.10 575.50h6.8M1001.50 572.10v6.8M998.40 572.40l6.20 6.20M998.40 578.60l6.20 -6.20M1015.10 575.50h6.8M1018.50 572.10v6.8M1015.40 572.40l6.20 6.20M1015.40 578.60l6.20 -6.20" stroke="#000" stroke-width="1.2" fill="none"/>
<g fill="#000">
<rect x="171.15" y="85.15" width="6.7" height="6.7"/>
<rect x="223.15" y="85.15" width="6.7" height="6.7"/>
<rect x="240.15" y="85.15" width="6.7" height="6.7"/>
<rect x="257.15" y="85.15" width="6.7" height="6.7"/>
<rect x="275.15" y="85.15" width="6.7" height="6.7"/>
<rect x="292.15" y="85.15" width="6.7" height="6.7"/>
<rect x="309.15" y="85.15" width="6.7" height="6.7"/>
<rect x="326.15" y="85.15" width="6.7" height="6.7"/>
<rect x="344.15" y="85.15" width="6.7" height="6.7"/>
<rect x="361.15" y="85.15" width="6.7" height="6.7"/>
<rect x="378.15" y="85.15" width="6.7" height="6.7"/>
<rect x="447.15" y="85.15" width="6.7" height="6.7"/>
<rect x="464.15" y="85.15" width="6.7" height="6.7"/>
<rect x="481.15" y="85.15" width="6.7" height="6.7"/>
<rect x="499.15" y="85.15" width="6.7" height="6.7"/>
<rect x="516.15" y="85.15" width="6.7" height="6.7"/>
<rect x="533.15" y="85.15" width="6.7" height="6.7"/>
<rect x="309.15" y="123.15" width="6.7" height="6.7"/>
<rect x="378.15" y="123.15" width="6.7" height="6.7"/>
<rect x="171.15" y="164.15" width="6.7" height="6.7"/>
<rect x="206.15" y="164.15" width="6.7" height="6.7"/>
<rect x="275.15" y="164.15" width="6.7" height="6.7"/>
<rect x="292.15" y="164.15" width="6.7" height="6.7"/>
<rect x="309.15" y="164.15" width="6.7" height="6.7"/>
<rect x="326.15" y="164.15" width="6.7" height="6.7"/>
<rect x="344.15" y="164.15" width="6.7" height="6.7"/>
<rect x="361.15" y="164.15" width="6.7" height="6.7"/>
<rect x="378.15" y="164.15" width="6.7" height="6.7"/>
<rect x="395.15" y="164.15" width="6.7" height="6.7"/>
<rect x="430.15" y="164.15" width="6.7" height="6.7"/>
<rect x="447.15" y="164.15" width="6.7" height="6.7"/>
<rect x="499.15" y="164.15" width="6.7" height="6.7"/>
<rect x="516.15" y="164.15" width="6.7" height="6.7"/>
<rect x="102.15" y="243.15" width="6.7" height="6.7"/>
<rect x="120.15" y="243.15" width="6.7" height="6.7"/>
<rect x="154.15" y="243.15" width="6.7" height="6.7"/>
<rect x="206.15" y="243.15" width="6.7" height="6.7"/>
<rect x="447.15" y="243.15" width="6.7" height="6.7"/>
<rect x="85.15" y="323.15" width="6.7" height="6.7"/>
<rect x="154.15" y="323.15" width="6.7" height="6.7"/>
<rect x="171.15" y="323.15" width="6.7" height="6.7"/>
<rect x="188.15" y="323.15" width="6.7" height="6.7"/>
<rect x="240.15" y="323.15" width="6.7" height="6.7"/>
<rect x="257.15" y="323.15" width="6.7" height="6.7"/>
<rect x="395.15" y="323.15" width="6.7" height="6.7"/>
<rect x="430.15" y="323.15" width="6.7" height="6.7"/>
<rect x="533.15" y="323.15" width="6.7" height="6.7"/>
<rect x="102.15" y="361.15" width="6.7" height="6.7"/>
<rect x="412.15" y="361.15" width="6.7" height="6.7"/>
<rect x="85.15" y="402.15" width="6.7" height="6.7"/>
<rect x="120.15" y="402.15" width="6.7" height="6.7"/>
<rect x="137.15" y="402.15" width="6.7" height="6.7"/>
</g>
<rect x="54.5" y="56.5" width="999.0" height="603.0" fill="none" stroke="#000" stroke-width="1"/>
<text x="553.5" y="34.2" text-anchor="middle">Verwachting 2026010418: SchielandEnKrimpenerwaard - bewolking; latente en voelbare warmtestroom</text>
<text x="44.3" y="411.1" text-anchor="end">0</text>
<text x="44.3" y="372.1" text-anchor="end">1</text>
<text x="44.3" y="332.1" text-anchor="end">2</text>
<text x="44.3" y="292.1" text-anchor="end">3</text>
<text x="44.3" y="252.1" text-anchor="end">4</text>
<text x="44.3" y="213.1" text-anchor="end">5</text>
<text x="44.3" y="173.1" text-anchor="end">6</text>
<text x="44.3" y="133.1" text-anchor="end">7</text>
<text x="44.3" y="94.1" text-anchor="end">8</text>
<text x="1063.2" y="665.7">-100</text>
<text x="1068.0" y="579.6">0</text>
<text x="1068.0" y="493.4">100</text>
<text x="1068.0" y="407.3">200</text>
<text x="1068.0" y="321.1">300</text>
<text x="1068.0" y="235.0">400</text>
<text x="1068.0" y="148.8">500</text>
<text x="1068.0" y="62.7">600</text>
<text x="88.5" y="684.2" text-anchor="middle">d0h18</text>
<text x="191.5" y="684.2" text-anchor="middle">d1h0</text>
<text x="295.5" y="684.2" text-anchor="middle">d1h6</text>
<text x="398.5" y="684.2" text-anchor="middle">d1h12</text>
<text x="502.5" y="684.2" text-anchor="middle">d1h18</text>
<text x="605.5" y="684.2" text-anchor="middle">d2h0</text>
<text x="708.5" y="684.2" text-anchor="middle">d2h6</text>
<text x="812.5" y="684.2" text-anchor="middle">d2h12</text>
<text x="915.5" y="684.2" text-anchor="middle">d2h18</text>
<text x="1018.5" y="684.2" text-anchor="middle">d3h0</text>
<text x="554.5" y="712.3" text-anchor="middle">Verwachtingstijd (UTC)</text>
<text transform="translate(23 358.5) rotate(-90)" text-anchor="middle">Bewolkingsgraad (octa)</text>
<text transform="translate(1129 358.5) rotate(-90)" text-anchor="middle">Latente en Voelbare warmtestroom (W/m<tspan font-size="12.8" dy="-6">2</tspan><tspan dy="6">)</tspan></text>
<text x="1362.3" y="71.2" text-anchor="end">CC gem +/- stdev</text>
<path d="M1372.5 65.50H1419.5M1372.5 61.60v7.8M1419.5 61.60v7.8" stroke="#000" fill="none"/>
<circle cx="1395.5" cy="65.50" r="3" fill="#fff" stroke="#000"/>
<text x="1362.3" y="90.2" text-anchor="end">CC min</text>
<path d="M1372.5 84.50H1419.5" stroke="#787878" stroke-width="1.1" stroke-dasharray="1.1 3.3" fill="none"/>
<text x="1362.3" y="108.2" text-anchor="end">CC max</text>
<path d="M1372.5 102.50H1419.5" stroke="#787878" stroke-width="1.1" stroke-dasharray="1.1 3.3" fill="none"/>
<text x="1362.3" y="127.2" text-anchor="end">LATHFLX gem +/- stdev</text>
<path d="M1372.5 121.50H1419.5M1372.5 117.60v7.8M1419.5 117.60v7.8" stroke="#000" fill="none"/>
<path d="M1392.10 121.50h6.8M1395.50 118.10v6.8M1392.40 118.40l6.20 6.20M1392.40 124.60l6.20 -6.20" stroke="#000" stroke-width="1.2" fill="none"/>
<text x="1362.3" y="146.2" text-anchor="end">LATHFLX min</text>
<path d="M1372.5 140.50H1419.5" stroke="#1a1a1a" stroke-width="2.1" stroke-dasharray="1.15 7.6" fill="none"/>
<text x="1362.3" y="164.2" text-anchor="end">LATHFLX max</text>
<path d="M1372.5 158.50H1419.5" stroke="#787878" stroke-width="1.1" stroke-dasharray="1.1 3.3" fill="none"/>
<text x="1362.3" y="183.2" text-anchor="end">SNSHFLX gem +/- stdev</text>
<path d="M1372.5 177.50H1419.5M1372.5 173.60v7.8M1419.5 173.60v7.8" stroke="#000" fill="none"/>
<rect x="1392.55" y="174.55" width="5.9" height="5.9" fill="#fff" stroke="#000"/>
<text x="1362.3" y="202.2" text-anchor="end">SNSHFLX min</text>
<path d="M1372.5 196.50H1419.5" stroke="#787878" stroke-width="1.1" stroke-dasharray="1.1 3.3" fill="none"/>
<text x="1362.3" y="220.2" text-anchor="end">SNSHFLX max</text>
<path d="M1372.5 214.50H1419.5" stroke="#787878" stroke-width="1.1" stroke-dasharray="1.1 3.3" fill="none"/>
<text x="1362.3" y="239.2" text-anchor="end">CC obs</text>
<path d="M1372.5 233.50H1419.5" stroke="#000" stroke-dasharray="9 4 1 4 1 4 9 4 1 4 1 4" fill="none"/><path d="M1372.5 229.60v7.8M1419.5 229.60v7.8" stroke="#000" fill="none"/>
<rect x="1392.15" y="230.15" width="6.7" height="6.7"/>
</svg>
</body></html>
